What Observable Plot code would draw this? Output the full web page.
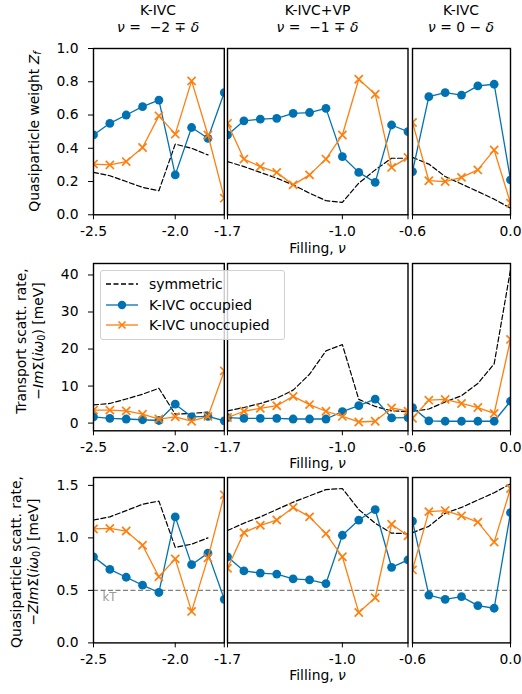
<!DOCTYPE html>
<html><head><meta charset="utf-8">
<script src="https://cdn.jsdelivr.net/npm/d3@7"></script>
<script src="https://cdn.jsdelivr.net/npm/@observablehq/plot@0.6"></script>
<style>
body{margin:0;background:#fff;}
#root{position:relative;width:522px;height:694px;font-family:"DejaVu Sans",sans-serif;font-size:13.9px;color:#000;overflow:hidden;background:#fff}
.abs{position:absolute;white-space:nowrap}
.title{text-align:center;line-height:16.7px;width:200px}
.ylab{text-align:center;line-height:17px;transform:rotate(-90deg);transform-origin:center center}
.legend{background:rgba(255,255,255,0.8);border:1px solid #d0d0d0;border-radius:3px;box-sizing:border-box}
.legrow{position:absolute;left:5px;height:20px;display:flex;align-items:center}
.legrow svg{margin-right:11px}
</style></head><body><div id="root"></div>
<script>
// ---------- data ----------
const panelTitles1 = ["K-IVC", "K-IVC+VP", "K-IVC"];
const panelTitles2 = ["<i>ν</i> = &nbsp;−2 ∓ <i>δ</i>", "<i>ν</i> = &nbsp;−1 ∓ <i>δ</i>", "<i>ν</i> = 0 − <i>δ</i>"];
const xDomains = [[-2.5, -1.7], [-1.7, -0.6], [-0.6, 0.0]];
const xTicks = [[-2.5, -2.0, -1.7], [-1.7, -1.0, -0.6], [-0.6, 0.0]];
const xTickLabels = [[-2.5, -2.0], [-1.7, -1.0], [-0.6, 0.0]];

const fillingP1 = [-2.5, -2.4, -2.3, -2.2, -2.1, -2.0, -1.9, -1.8, -1.7];
const fillingP2 = [-1.7, -1.6, -1.5, -1.4, -1.3, -1.2, -1.1, -1.0, -0.9, -0.8, -0.7, -0.6];
const fillingP3 = [-0.6, -0.5, -0.4, -0.3, -0.2, -0.1, 0.0];

// Row 1: quasiparticle weight Z_f
const zSym1 = [0.255, 0.235, 0.20, 0.165, 0.145, 0.425, 0.40, 0.36];
const zOcc1 = [0.48, 0.55, 0.60, 0.65, 0.69, 0.24, 0.525, 0.46, 0.735];
const zUnocc1 = [0.305, 0.30, 0.32, 0.405, 0.595, 0.485, 0.805, 0.48, 0.10];
const zSym2 = [0.32, 0.29, 0.255, 0.22, 0.18, 0.13, 0.085, 0.075, 0.19, 0.27, 0.34, 0.34];
const zOcc2 = [0.48, 0.565, 0.575, 0.58, 0.61, 0.615, 0.64, 0.35, 0.255, 0.195, 0.54, 0.50];
const zUnocc2 = [0.55, 0.335, 0.29, 0.255, 0.18, 0.24, 0.335, 0.48, 0.815, 0.725, 0.285, 0.345];
const zSym3 = [0.345, 0.305, 0.23, 0.185, 0.14, 0.094, 0.04];
const zOcc3 = [0.26, 0.71, 0.735, 0.72, 0.775, 0.785, 0.21];
const zUnocc3 = [0.555, 0.205, 0.20, 0.225, 0.27, 0.39, 0.07];

// Row 2: transport scattering rate [meV]
const tSym1 = [4.9, 5.3, 6.5, 7.8, 9.4, 2.4, 2.6, 3.0];
const tOcc1 = [1.7, 1.3, 1.1, 0.9, 0.7, 5.1, 1.7, 1.8, 0.6];
const tUnocc1 = [3.5, 3.5, 3.3, 2.4, 1.1, 1.7, 0.5, 1.8, 14.1];
const tSym2 = [3.3, 4.2, 5.3, 6.7, 8.9, 13.2, 19.5, 21.2, 6.4, 4.5, 3.3, 3.1];
const tOcc2 = [1.5, 1.3, 1.3, 1.3, 1.1, 1.1, 1.1, 3.1, 4.7, 6.5, 1.4, 1.5];
const tUnocc2 = [1.5, 3.2, 4.0, 4.7, 7.2, 5.0, 3.2, 1.8, 0.3, 0.5, 4.1, 3.2];
const tSym3 = [3.2, 3.8, 5.7, 7.4, 10.7, 16.0, 41.4];
const tOcc3 = [4.2, 0.6, 0.5, 0.5, 0.5, 0.5, 5.9];
const tUnocc3 = [1.3, 6.2, 6.4, 5.3, 4.2, 2.6, 22.6];

// Row 3: quasiparticle scattering rate [meV]
const qSym1 = [1.17, 1.20, 1.26, 1.32, 1.35, 0.91, 0.94, 1.0];
const qOcc1 = [0.82, 0.70, 0.625, 0.55, 0.48, 1.20, 0.745, 0.855, 0.415];
const qUnocc1 = [1.085, 1.09, 1.065, 0.93, 0.63, 0.80, 0.30, 0.81, 1.41];
const qSym2 = [1.07, 1.14, 1.20, 1.27, 1.34, 1.40, 1.46, 1.47, 1.27, 1.14, 1.045, 1.04];
const qOcc2 = [0.82, 0.685, 0.665, 0.655, 0.61, 0.60, 0.565, 1.025, 1.17, 1.27, 0.72, 0.79];
const qUnocc2 = [0.71, 1.05, 1.12, 1.17, 1.29, 1.20, 1.04, 0.82, 0.29, 0.43, 1.13, 1.02];
const qSym3 = [1.05, 1.11, 1.235, 1.29, 1.36, 1.43, 1.515];
const qOcc3 = [1.16, 0.455, 0.415, 0.44, 0.355, 0.33, 1.24];
const qUnocc3 = [0.695, 1.25, 1.26, 1.21, 1.15, 0.96, 1.47];

const kT = 0.5;
const kTLabel = "kT";

const yDomains = [[0, 1.0], [-2.08, 43.1], [0, 1.575]];
const yTicks = [[0, 0.2, 0.4, 0.6, 0.8, 1.0], [0, 10, 20, 30, 40], [0, 0.5, 1.0, 1.5]];
const yTickDigits = [1, 0, 1];
const legendLabels = ["symmetric", "K-IVC occupied", "K-IVC unoccupied"];
const xLabelHTML = "Filling, <i>ν</i>";
const yLabelsHTML = [
  ["Quasiparticle weight <i>Z<sub style='font-size:70%;vertical-align:-0.25em'>f</sub></i>"],
  ["Transport scatt. rate,", "−<i>Im</i>Σ(<i>iω</i><sub style='font-size:70%;vertical-align:-0.25em'>0</sub>) [meV]"],
  ["Quasiparticle scatt. rate,", "−<i>ZIm</i>Σ(<i>iω</i><sub style='font-size:70%;vertical-align:-0.25em'>0</sub>) [meV]"]
];

// ---------- layout (pixels) ----------
const colLeft = [92.7, 227.3, 412.0];
const colRight = [223.5, 407.8, 510.0];
const rowTop = [47.7, 262.7, 477.3];
const rowBottom = [214.0, 430.0, 642.7];
const BLUE = "#0072b2", ORANGE = "#ff7f0e";

const fillings = [fillingP1, fillingP2, fillingP3];
const series = [
  [[zSym1, zOcc1, zUnocc1], [zSym2, zOcc2, zUnocc2], [zSym3, zOcc3, zUnocc3]],
  [[tSym1, tOcc1, tUnocc1], [tSym2, tOcc2, tUnocc2], [tSym3, tOcc3, tUnocc3]],
  [[qSym1, qOcc1, qUnocc1], [qSym2, qOcc2, qUnocc2], [qSym3, qOcc3, qUnocc3]]
];

const root = document.getElementById("root");
function addDiv(html, cls, css) {
  const d = document.createElement("div");
  d.className = "abs " + (cls || "");
  d.innerHTML = html;
  Object.assign(d.style, css);
  root.appendChild(d);
  return d;
}

for (let r = 0; r < 3; r++) {
  for (let c = 0; c < 3; c++) {
    const W = colRight[c] - colLeft[c], H = rowBottom[r] - rowTop[r];
    const xs = fillings[c];
    const [sym, occ, unocc] = series[r][c];
    const toRows = (vals) => vals.map((v, i) => ({x: xs[i], y: v}));
    const marks = [];
    if (r === 2) marks.push(Plot.ruleY([kT], {stroke: "#808080", strokeWidth: 1.1, strokeDasharray: "5,2.5"}));
    marks.push(Plot.line(toRows(sym), {x: "x", y: "y", stroke: "black", strokeWidth: 1.2, strokeDasharray: "5,2.5", clip: true}));
    marks.push(Plot.line(toRows(occ), {x: "x", y: "y", stroke: BLUE, strokeWidth: 1.3, clip: true}));
    marks.push(Plot.dot(toRows(occ), {x: "x", y: "y", r: 4.4, fill: BLUE, clip: true}));
    marks.push(Plot.line(toRows(unocc), {x: "x", y: "y", stroke: ORANGE, strokeWidth: 1.3, clip: true}));
    marks.push(Plot.dot(toRows(unocc), {x: "x", y: "y", symbol: "times", r: 3.8, stroke: ORANGE, strokeWidth: 1.7, clip: true}));
    if (r === 2 && c === 0) {
      marks.push(Plot.text([kTLabel], {x: xDomains[0][0], y: kT, text: d => d, dx: 9, dy: 6.7, textAnchor: "start", fill: "#999", fontSize: 11.6}));
    }
    const labeled = xTickLabels[c];
    marks.push(Plot.axisX({ticks: xTicks[c], tickSize: 5, tickPadding: 6, label: null,
      tickFormat: d => labeled.some(v => Math.abs(v - d) < 1e-9) ? d.toFixed(1) : ""}));
    if (c === 0) {
      marks.push(Plot.axisY({ticks: yTicks[r], tickSize: 5, tickPadding: 10, label: null,
        tickFormat: d => d.toFixed(yTickDigits[r])}));
    }
    marks.push(Plot.frame({stroke: "black", strokeWidth: 1.4}));
    const yOpts = {domain: yDomains[r], range: [H, 0]};
    if (c !== 0) yOpts.axis = null;
    const svg = Plot.plot({
      width: W, height: H, margin: 0,
      x: {domain: xDomains[c], range: [0, W]},
      y: yOpts,
      style: {background: "transparent", overflow: "visible", fontFamily: "DejaVu Sans", fontSize: "13.9px", color: "black"},
      marks
    });
    svg.style.position = "absolute";
    svg.style.left = colLeft[c] + "px";
    svg.style.top = rowTop[r] + "px";
    svg.style.width = W + "px";
    svg.style.height = H + "px";
    root.appendChild(svg);
  }
}

// column titles
for (let c = 0; c < 3; c++) {
  const cx = (colLeft[c] + colRight[c]) / 2;
  addDiv(panelTitles1[c] + "<br>" + panelTitles2[c], "title", {left: (cx - 100) + "px", top: "1.9px"});
}

// x labels
const xLabelBaselines = [253, 468, 680];
const midX = (colLeft[1] + colRight[1]) / 2;
xLabelBaselines.forEach(b => {
  addDiv(xLabelHTML, "", {left: (midX - 60) + "px", width: "120px", textAlign: "center", lineHeight: "14px", top: (b - 11.8) + "px"});
});

// y labels (rotated)
const yLabelCenters = [[33.5, 131], [30.4, 341], [25.4, 562]];
yLabelsHTML.forEach((lines, r) => {
  const [cx, cy] = yLabelCenters[r];
  const w = 240, h = 17 * lines.length;
  addDiv(lines.join("<br>"), "ylab", {left: (cx - w / 2) + "px", top: (cy - h / 2) + "px", width: w + "px", height: h + "px"});
});

// legend
const leg = addDiv("", "legend", {left: "100px", top: "269.7px", width: "185px", height: "70.6px"});
const swatches = [
  `<svg width="32" height="12"><line x1="0" x2="32" y1="6" y2="6" stroke="black" stroke-width="1.3" stroke-dasharray="5,2.5"/></svg>`,
  `<svg width="32" height="12"><line x1="0" x2="32" y1="6" y2="6" stroke="${BLUE}" stroke-width="1.3"/><circle cx="16" cy="6" r="4.2" fill="${BLUE}"/></svg>`,
  `<svg width="32" height="12"><line x1="0" x2="32" y1="6" y2="6" stroke="${ORANGE}" stroke-width="1.3"/><path d="M12.5,2.5L19.5,9.5M12.5,9.5L19.5,2.5" stroke="${ORANGE}" stroke-width="1.6"/></svg>`
];
const legRowCenters = [283.7, 304.7, 325.3];
legendLabels.forEach((lab, i) => {
  const row = document.createElement("div");
  row.className = "legrow";
  row.style.top = (legRowCenters[i] - 269.7 - 10 - 1) + "px";
  row.innerHTML = swatches[i] + "<span>" + lab + "</span>";
  leg.appendChild(row);
});
</script>
</body></html>
